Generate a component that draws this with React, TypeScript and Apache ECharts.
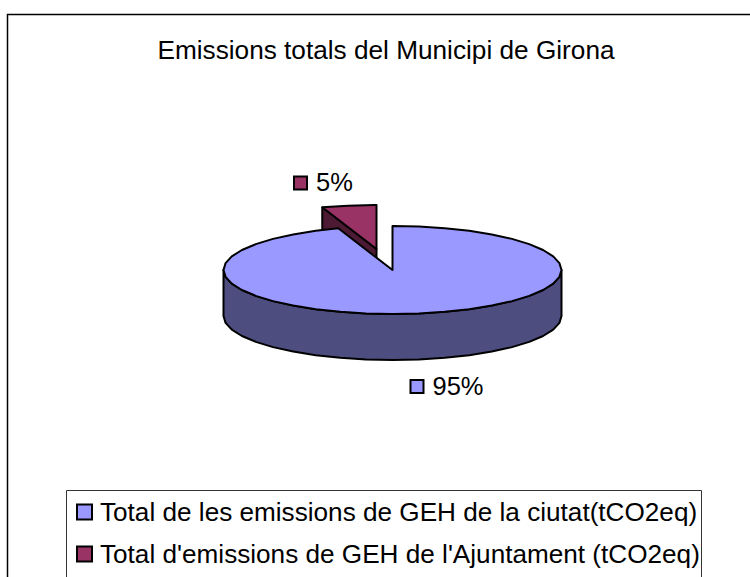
import React, { useEffect, useRef } from "react";
import * as echarts from "echarts";

const titleText = "Emissions totals del Municipi de Girona";
const sliceNames = [
  "Total de les emissions de GEH de la ciutat(tCO2eq)",
  "Total d'emissions de GEH de l'Ajuntament (tCO2eq)",
];
const sliceValues = [94.8, 5.2];
const sliceColors = ["#9999FF", "#993366"];
const sideColors = ["#4D4D80", "#4D1A33"];

const FONT = "'Liberation Sans', Arial, sans-serif";
const CX = 392.5, CY = 270, RX = 169, RY = 44, DEPTH = 46;
const STEP = 9;
const total = sliceValues.reduce((a, b) => a + b, 0);

function pt(deg: number, ox = 0, oy = 0): number[] {
  const r = (deg * Math.PI) / 180;
  return [CX + ox + RX * Math.sin(r), CY + oy - RY * Math.cos(r)];
}
function arc(a0: number, a1: number, ox = 0, oy = 0): number[][] {
  const out: number[][] = [];
  for (let a = a0; a < a1; a += STEP) out.push(pt(a, ox, oy));
  out.push(pt(a1, ox, oy));
  return out;
}
const lineStyle = { stroke: "#000", lineWidth: 2, lineJoin: "round" };

function label(text: string, color: string, x: number, y: number) {
  return [
    { type: "rect", shape: { x, y, width: 13, height: 13 }, style: { fill: color, stroke: "#000", lineWidth: 2 } },
    {
      type: "text",
      style: {
        x: x + 22, y: y + 5.5, text, fill: "#000", font: `25.5px ${FONT}`,
        textAlign: "left", textVerticalAlign: "middle",
      },
    },
  ];
}

function renderSlice(index: number) {
  return (_p: any, api: any) => {
    const value = api.value(0) as number;
    const before = sliceValues.slice(0, index).reduce((a, b) => a + b, 0);
    const a0 = (before / total) * 360;
    const a1 = ((before + value) / total) * 360;
    const pct = `${Math.round((value / total) * 100)}%`;
    const children: any[] = [];
    if (index === 0) {
      const front = arc(Math.max(a0, 90), Math.min(a1, 270));
      const lower = front.map((p) => [p[0], p[1] + DEPTH]).reverse();
      children.push({
        type: "polygon", shape: { points: [...front, ...lower] },
        style: { fill: sideColors[index], ...lineStyle },
      });
      children.push({
        type: "polygon", shape: { points: [[CX, CY], ...arc(a0, a1)] },
        style: { fill: sliceColors[index], ...lineStyle },
      });
      children.push(...label(pct, sliceColors[index], 410.5, 380));
    } else {
      const ox = -16, oy = -21;
      const apex = [CX + ox, CY + oy];
      const rim = pt(a0, ox, oy);
      children.push({
        type: "polygon",
        shape: { points: [apex, rim, [rim[0], rim[1] + DEPTH], [apex[0], apex[1] + DEPTH]] },
        style: { fill: sideColors[index], ...lineStyle },
      });
      children.push({
        type: "polygon", shape: { points: [apex, ...arc(a0, a1, ox, oy)] },
        style: { fill: sliceColors[index], ...lineStyle },
      });
      children.push(...label(pct, sliceColors[index], 294, 176.5));
    }
    return { type: "group", children };
  };
}

export default function App() {
  const ref = useRef<HTMLDivElement>(null);
  useEffect(() => {
    const chart = echarts.init(ref.current!, null, { renderer: "svg" });
    chart.setOption({
      animation: false,
      backgroundColor: "#fff",
      title: {
        text: titleText, left: 381, top: 32, textAlign: "center",
        textStyle: { fontFamily: FONT, fontSize: 26.2, fontWeight: "normal", color: "#000" },
      },
      legend: {
        orient: "vertical", left: 76, top: 498, padding: 0, selectedMode: false,
        itemWidth: 15, itemHeight: 15, itemGap: 14, icon: "rect",
        textStyle: { fontFamily: FONT, fontSize: 26.15, color: "#000", padding: [0, 0, 0, 3], lineHeight: 28 },
        data: sliceNames.map((name, i) => ({
          name, icon: "rect",
          itemStyle: { color: sliceColors[i], borderColor: "#000", borderWidth: 2 },
        })),
      },
      graphic: [
        { type: "rect", silent: true, z: -1, shape: { x: 7.5, y: 14.5, width: 800, height: 700 }, style: { fill: "none", stroke: "#000", lineWidth: 1.5 } },
        { type: "rect", silent: true, z: -1, shape: { x: 66.5, y: 490.5, width: 635, height: 200 }, style: { fill: "#fff", stroke: "#333", lineWidth: 1 } },
      ],
      series: sliceValues.map((v, i) => ({
        type: "custom", name: sliceNames[i], coordinateSystem: "none", silent: true,
        z: i === 0 ? 3 : 2,
        data: [[v]],
        itemStyle: { color: sliceColors[i] },
        renderItem: renderSlice(i),
      })),
    });
    return () => chart.dispose();
  }, []);
  return <div ref={ref} style={{ position: "fixed", left: 0, top: 0, width: 750, height: 577 }} />;
}
